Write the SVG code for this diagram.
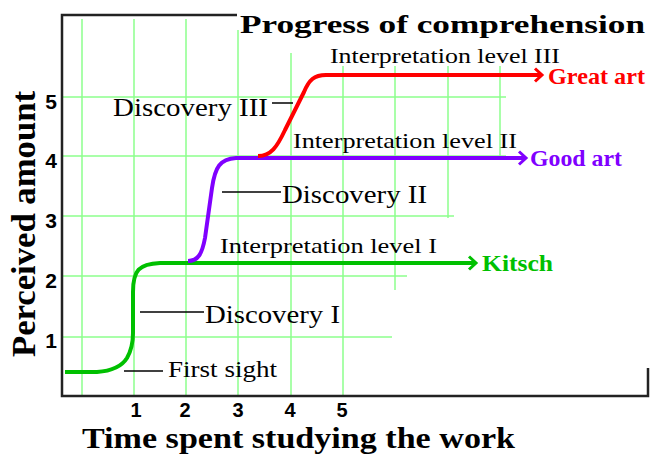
<svg xmlns="http://www.w3.org/2000/svg" width="652" height="455" viewBox="0 0 652 455">
<style>
.grid{stroke:#8cff8c;stroke-width:1.5;fill:none}
.axis{stroke:#222;stroke-width:2.5;fill:none}
.lead{stroke:#000;stroke-width:1.5;fill:none}
.curve{fill:none;stroke-width:4;stroke-linejoin:round;stroke-linecap:butt}
.head{fill:none;stroke-width:3;stroke-linejoin:miter}
.lbl{font-family:"Liberation Serif","Times New Roman",serif;fill:#000}
.num{font-family:"Liberation Sans",Arial,sans-serif;font-weight:bold;font-size:21px;fill:#000;text-anchor:middle}
.numx{font-size:20px}
.end{font-family:"Liberation Serif","Times New Roman",serif;font-weight:bold;font-size:23px}
.g{stroke:#00c000}
.p{stroke:#8000ff}
.r{stroke:#ff0000}
</style>
<rect width="652" height="455" fill="#fff"/>
<g id="grid">
<line class="grid" x1="82" y1="19" x2="82" y2="396"/>
<line class="grid" x1="134" y1="19" x2="134" y2="396"/>
<line class="grid" x1="186" y1="19" x2="186" y2="396"/>
<line class="grid" x1="238" y1="30" x2="238" y2="396"/>
<line class="grid" x1="291" y1="53" x2="291" y2="396"/>
<line class="grid" x1="343" y1="66" x2="343" y2="396"/>
<line class="grid" x1="395" y1="66" x2="395" y2="290"/>
<line class="grid" x1="448" y1="66" x2="448" y2="218"/>
<line class="grid" x1="500" y1="66" x2="500" y2="158"/>
<line class="grid" x1="62" y1="97" x2="506" y2="97"/>
<line class="grid" x1="62" y1="156" x2="506" y2="156"/>
<line class="grid" x1="62" y1="216" x2="454" y2="216"/>
<line class="grid" x1="62" y1="276" x2="407" y2="276"/>
<line class="grid" x1="62" y1="337" x2="392" y2="337"/>
</g>
<g id="axes">
<polyline class="axis" points="237,15 62,15 62,396 648,396 648,368"/>
<text class="num" x="51" y="109">5</text>
<text class="num" x="51" y="168">4</text>
<text class="num" x="51" y="228">3</text>
<text class="num" x="51" y="288">2</text>
<text class="num" x="51" y="348">1</text>
<text class="num numx" x="136" y="417">1</text>
<text class="num numx" x="185" y="417">2</text>
<text class="num numx" x="238" y="417">3</text>
<text class="num numx" x="290" y="417">4</text>
<text class="num numx" x="342" y="417">5</text>
<text class="lbl" x="82" y="448" font-size="30" font-weight="bold" textLength="433" lengthAdjust="spacingAndGlyphs">Time spent studying the work</text>
<text class="lbl" transform="translate(35,357) rotate(-90)" x="0" y="0" font-size="33" font-weight="bold" textLength="266" lengthAdjust="spacingAndGlyphs">Perceived amount</text>
</g>
<text id="title" class="lbl" x="240" y="33" font-size="26" font-weight="bold" textLength="405" lengthAdjust="spacingAndGlyphs">Progress of comprehension</text>
<g id="connectors">
<path class="curve g" d="M65,372 L97,372 C112,371 122,366 127,358 C131,351 133,343 133,333 L133,292 C133,270 139,264 160,263 L476,263"/>
<polyline class="head g" points="469,256.5 476,263 469,269.5"/>
<path class="curve p" d="M188,261 C198,261 202,254 205,238 L212,188 C215,167 220,159 236,158 L526,158"/>
<polyline class="head p" points="519,151.5 526,158 519,164.5"/>
<path class="curve r" d="M258,156 C271,156 277,147 285,130 L304,92 C309,80 314,75 326,75 L542,75"/>
<polyline class="head r" points="535,68.5 542,75 535,81.5"/>
<line class="lead" x1="272" y1="103" x2="293" y2="103"/>
<line class="lead" x1="222" y1="192" x2="281" y2="192"/>
<line class="lead" x1="140" y1="312" x2="204" y2="312"/>
<line class="lead" x1="124" y1="371" x2="163" y2="371"/>
</g>
<g id="labels">
<text class="lbl" x="330" y="63" font-size="22" textLength="230" lengthAdjust="spacingAndGlyphs">Interpretation level III</text>
<text class="lbl" x="293" y="148" font-size="22" textLength="224" lengthAdjust="spacingAndGlyphs">Interpretation level II</text>
<text class="lbl" x="220" y="253" font-size="22" textLength="217" lengthAdjust="spacingAndGlyphs">Interpretation level I</text>
<text class="lbl" x="113" y="116" font-size="26" textLength="155" lengthAdjust="spacingAndGlyphs">Discovery III</text>
<text class="lbl" x="282" y="203" font-size="26" textLength="145" lengthAdjust="spacingAndGlyphs">Discovery II</text>
<text class="lbl" x="205" y="323" font-size="26" textLength="135" lengthAdjust="spacingAndGlyphs">Discovery I</text>
<text class="lbl" x="168" y="377" font-size="24" textLength="109" lengthAdjust="spacingAndGlyphs">First sight</text>
</g>
<g id="outcomes">
<text class="end" x="548" y="84" fill="#ff0000" textLength="97" lengthAdjust="spacingAndGlyphs">Great art</text>
<text class="end" x="530" y="166" fill="#8000ff" textLength="92" lengthAdjust="spacingAndGlyphs">Good art</text>
<text class="end" x="482" y="271" fill="#00c000" textLength="71" lengthAdjust="spacingAndGlyphs">Kitsch</text>
</g>
</svg>
